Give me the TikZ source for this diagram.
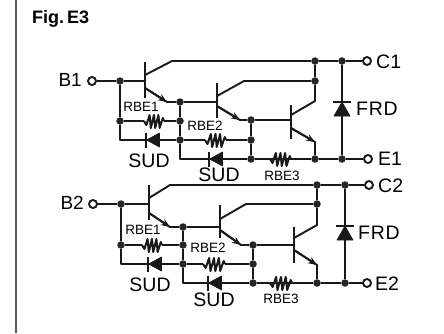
\documentclass[tikz,border=0pt]{standalone}
\usepackage{fontspec}
\setmainfont{Liberation Sans}
\usetikzlibrary{arrows.meta}
\tikzset{
  wire/.style={line width=1.9pt,line join=round,color=black!90},
  tbar/.style={line width=2.4pt,color=black!90},
  emit/.style={wire,-{Stealth[length=9pt,width=7pt]}},
  dot/.style={circle,fill=black!85,inner sep=0pt,minimum size=7.5pt},
  term/.style={circle,draw=black!90,fill=white,line width=1.9pt,inner sep=0pt,minimum size=8pt},
  big/.style={font=\fontsize{19.5}{20}\selectfont,inner sep=0pt},
  wide/.style={font=\fontsize{19.5}{20}\addfontfeature{LetterSpace=4}\selectfont,inner sep=0pt},
  mid/.style={font=\fontsize{19}{19}\selectfont,inner sep=0pt},
  small/.style={font=\fontsize{13.5}{14}\selectfont,inner sep=0pt},
  solid part/.style={fill=black!90,draw=black!90,line width=.6pt,line join=round}
}
% resistor squiggle between two named coordinates on one horizontal line
\newcommand{\zig}[3]{%
  \draw[wire,line width=2pt] (#1)
   -- ++(#3*.12,4) -- ++(#3*.16,-10) -- ++(#3*.06,13)
   -- ++(#3*.16,-13) -- ++(#3*.06,13) -- ++(#3*.16,-13) -- ++(#3*.06,13) -- ++(#3*.16,-10) -- (#2);}
% diode pointing left, bar at coordinate
\newcommand{\dioL}[1]{%
  \draw[tbar] (#1) ++(0,-7.5) -- ++(0,15);
  \path[solid part,draw] (#1) ++(.5,0) -- ++(13,-7) -- ++(0,14) -- cycle;}
% diode pointing up, bar at coordinate
\newcommand{\dioU}[1]{%
  \draw[tbar] (#1) ++(-9,0) -- ++(18,0);
  \path[solid part,draw] (#1) -- ++(-8,14) -- ++(16,0) -- cycle;}
\begin{document}
\begin{tikzpicture}[x=1pt,y=-1pt]
\useasboundingbox (0,0) rectangle (444,333);
\fill[white] (0,0) rectangle (444,333);
\coordinate (bt) at (16,0); \coordinate (bb) at (16,333);
\draw[line width=2pt,color=black!65] (bt) -- (bb);
\node[anchor=west,inner sep=0pt,font=\fontsize{18}{18}\bfseries\selectfont] (fig) at (32,19) {Fig.\,E3};

%%% first circuit
\node[mid,anchor=east] (tB1) at (82,80) {B1};
\node[big,anchor=west] (tC1) at (376,62) {C1};
\node[big,anchor=west] (tE1) at (378,159) {E1};
\node[wide,anchor=west] (tF1) at (356,109) {FRD};
\node[small] (lA1) at (141,107) {RBE1};
\node[small] (lB1) at (205,126) {RBE2};
\node[small] (lC1) at (282,175.5) {RBE3};
\node[big] (lS1) at (149,160.5) {SUD};
\node[big] (lS2) at (219,175) {SUD};

\node[term] (B1) at (92,81) {};
\node[term] (C1) at (367,61) {};
\node[term] (E1) at (368,159) {};
\node[dot] (j1) at (120,81) {};
\node[dot] (j2) at (120,121) {};
\node[dot] (j3) at (180,102) {};
\node[dot] (j4) at (180,121) {};
\node[dot] (j5) at (180,140) {};
\node[dot] (j6) at (251,120) {};
\node[dot] (j7) at (251,140) {};
\node[dot] (j8) at (251,159) {};
\node[dot] (j9) at (315,159) {};
\node[dot] (j10) at (342,159) {};
\node[dot] (j11) at (315,61) {};
\node[dot] (j12) at (342,61) {};
\node[dot] (j13) at (315,81) {};

% Q1
\coordinate (q1a) at (145,62); \coordinate (q1b) at (145,98); \coordinate (q1m) at (145,81);
\coordinate (q1c) at (145,75); \coordinate (q1k) at (172,61);
\coordinate (q1e) at (145,88); \coordinate (q1f) at (167,102);
\draw[tbar] (q1a) -- (q1b);
\draw[wire] (B1) -- (j1) -- (q1m);
\draw[wire] (q1c) -- (q1k) -- (j11) -- (j12) -- (C1);
\draw[wire] (q1e) -- (q1f) -- (j3);
\draw[emit] (q1e) -- (q1f);
% Q2
\coordinate (q2a) at (217,83); \coordinate (q2b) at (217,118); \coordinate (q2m) at (217,102);
\coordinate (q2c) at (217,96); \coordinate (q2k) at (244,81);
\coordinate (q2e) at (217,106); \coordinate (q2f) at (240,120);
\draw[tbar] (q2a) -- (q2b);
\draw[wire] (j3) -- (q2m);
\draw[wire] (q2c) -- (q2k) -- (j13);
\draw[wire] (q2e) -- (q2f) -- (j6);
\draw[emit] (q2e) -- (q2f);
% Q3
\coordinate (q3a) at (291,105); \coordinate (q3b) at (291,139); \coordinate (q3m) at (291,120);
\coordinate (q3c) at (291,115); \coordinate (q3k) at (315,101);
\coordinate (q3e) at (291,128); \coordinate (q3f) at (315,142);
\draw[tbar] (q3a) -- (q3b);
\draw[wire] (j6) -- (q3m);
\draw[wire] (q3c) -- (q3k) -- (j13) -- (j11);
\draw[wire] (q3e) -- (q3f) -- (j9);
\draw[emit] (q3e) -- (q3f);
% base network
\coordinate (c1) at (120,140); \coordinate (c2) at (180,159);
\draw[wire] (j1) -- (j2) -- (c1) -- (j5);
\draw[wire] (j3) -- (j4) -- (j5) -- (c2) -- (j8);
\draw[wire] (j6) -- (j7) -- (j8);
\draw[wire] (j8) -- (j9) -- (j10) -- (E1);
% resistors
\coordinate (r1a) at (144,121); \coordinate (r1b) at (164,121);
\draw[wire] (j2) -- (r1a); \draw[wire] (r1b) -- (j4); \zig{r1a}{r1b}{20}
\coordinate (r2a) at (205,140); \coordinate (r2b) at (226,140);
\draw[wire] (j5) -- (r2a); \draw[wire] (r2b) -- (j7); \zig{r2a}{r2b}{21}
\coordinate (r3a) at (270,159); \coordinate (r3b) at (291,159);
\draw[wire] (j8) -- (r3a); \draw[wire] (r3b) -- (j9); \zig{r3a}{r3b}{21}
% SUD diodes
\coordinate (d1) at (146,140); \dioL{d1}
\coordinate (d2) at (209,159); \dioL{d2}
% FRD
\draw[wire] (j12) -- (j10);
\coordinate (f1) at (342,102); \dioU{f1}

%%% second circuit
\node[mid,anchor=east] (tB2) at (84,203) {B2};
\node[big,anchor=west] (tC2) at (378,186) {C2};
\node[big,anchor=west] (tE2) at (375,284) {E2};
\node[wide,anchor=west] (tF2) at (358,233) {FRD};
\node[small] (lA2) at (143,230) {RBE1};
\node[small] (lB2) at (208,248) {RBE2};
\node[small] (lC2) at (281,299) {RBE3};
\node[big] (lS3) at (150,284.5) {SUD};
\node[big] (lS4) at (214,299.5) {SUD};

\node[term] (B2) at (93,204) {};
\node[term] (C2) at (369,185) {};
\node[term] (E2) at (367,283) {};
\node[dot] (k1) at (121,204) {};
\node[dot] (k2) at (121,245) {};
\node[dot] (k3) at (183,227) {};
\node[dot] (k4) at (183,245) {};
\node[dot] (k5) at (183,264) {};
\node[dot] (k6) at (253,245) {};
\node[dot] (k7) at (253,264) {};
\node[dot] (k8) at (253,283) {};
\node[dot] (k9) at (317,283) {};
\node[dot] (k10) at (345,283) {};
\node[dot] (k11) at (317,185) {};
\node[dot] (k12) at (345,185) {};
\node[dot] (k13) at (317,204) {};

% Q4
\coordinate (q4a) at (149,185); \coordinate (q4b) at (149,220); \coordinate (q4m) at (149,204);
\coordinate (q4c) at (149,198); \coordinate (q4k) at (170,185);
\coordinate (q4e) at (149,213); \coordinate (q4f) at (170,227);
\draw[tbar] (q4a) -- (q4b);
\draw[wire] (B2) -- (k1) -- (q4m);
\draw[wire] (q4c) -- (q4k) -- (k11) -- (k12) -- (C2);
\draw[wire] (q4e) -- (q4f) -- (k3);
\draw[emit] (q4e) -- (q4f);
% Q5
\coordinate (q5a) at (220,205); \coordinate (q5b) at (220,238); \coordinate (q5m) at (220,227);
\coordinate (q5c) at (220,219); \coordinate (q5k) at (246,204);
\coordinate (q5e) at (220,230); \coordinate (q5f) at (241,245);
\draw[tbar] (q5a) -- (q5b);
\draw[wire] (k3) -- (q5m);
\draw[wire] (q5c) -- (q5k) -- (k13);
\draw[wire] (q5e) -- (q5f) -- (k6);
\draw[emit] (q5e) -- (q5f);
% Q6
\coordinate (q6a) at (294,227); \coordinate (q6b) at (294,263); \coordinate (q6m) at (294,245);
\coordinate (q6c) at (294,238); \coordinate (q6k) at (317,225);
\coordinate (q6e) at (294,250); \coordinate (q6f) at (317,265);
\draw[tbar] (q6a) -- (q6b);
\draw[wire] (k6) -- (q6m);
\draw[wire] (q6c) -- (q6k) -- (k13) -- (k11);
\draw[wire] (q6e) -- (q6f) -- (k9);
\draw[emit] (q6e) -- (q6f);
% base network
\coordinate (c3) at (121,264); \coordinate (c4) at (183,283);
\draw[wire] (k1) -- (k2) -- (c3) -- (k5);
\draw[wire] (k3) -- (k4) -- (k5) -- (c4) -- (k8);
\draw[wire] (k6) -- (k7) -- (k8);
\draw[wire] (k8) -- (k9) -- (k10) -- (E2);
% resistors
\coordinate (r4a) at (142,245); \coordinate (r4b) at (162,245);
\draw[wire] (k2) -- (r4a); \draw[wire] (r4b) -- (k4); \zig{r4a}{r4b}{20}
\coordinate (r5a) at (203,264); \coordinate (r5b) at (225,264);
\draw[wire] (k5) -- (r5a); \draw[wire] (r5b) -- (k7); \zig{r5a}{r5b}{22}
\coordinate (r6a) at (270,283); \coordinate (r6b) at (292,283);
\draw[wire] (k8) -- (r6a); \draw[wire] (r6b) -- (k9); \zig{r6a}{r6b}{22}
% SUD diodes
\coordinate (d3) at (148,264); \dioL{d3}
\coordinate (d4) at (208,283); \dioL{d4}
% FRD
\draw[wire] (k12) -- (k10);
\coordinate (f2) at (345,226); \dioU{f2}
\end{tikzpicture}
\end{document}
